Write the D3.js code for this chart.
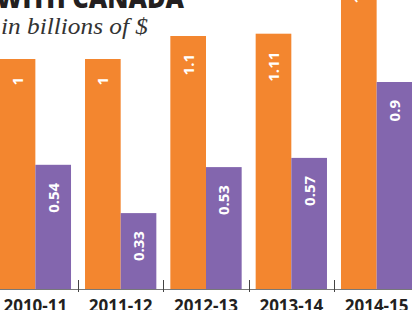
<!DOCTYPE html>
<html>
<head>
<meta charset="utf-8">
<script src="https://cdn.jsdelivr.net/npm/d3@7"></script>
<style>
  body { margin: 0; background: #fff; }
  svg { display: block; }
</style>
</head>
<body>
<svg id="chart" width="412" height="310"></svg>
<script>
const width = 412;
const height = 310;

// data
var years = ["2010-11", "2011-12", "2012-13", "2013-14", "2014-15"];
var exports_ = [1, 1, 1.1, 1.11, 1.45];
var imports_ = [0.54, 0.33, 0.53, 0.57, 0.9];
var exportLabels = ["1", "1", "1.1", "1.11", "1.45"];
var importLabels = ["0.54", "0.33", "0.53", "0.57", "0.9"];

var orange = "#f3862f";
var purple = "#8366ae";

var svg = d3.select("#chart");

var baseline = 289;

var x0 = d3.scaleBand()
    .domain(years)
    .range([-7.3, 419.3])
    .padding(0);

var x1 = d3.scaleBand()
    .domain(["exp", "imp"])
    .range([7, x0.bandwidth() - 7])
    .padding(0);

var y = d3.scaleLinear()
    .domain([0, 1])
    .range([baseline, 59]);

// title (cut at top)
svg.append("text")
    .attr("x", -4)
    .attr("y", 8)
    .attr("font-family", "'Open Sans', sans-serif")
    .attr("font-weight", 800)
    .attr("font-size", 28)
    .attr("fill", "#231f20")
    .attr("textLength", 188)
    .attr("lengthAdjust", "spacingAndGlyphs")
    .text("WITH CANADA");

svg.append("text")
    .attr("x", 1)
    .attr("y", 34)
    .attr("font-family", "'Liberation Serif', serif")
    .attr("font-style", "italic")
    .attr("font-size", 23)
    .attr("fill", "#333")
    .attr("textLength", 147)
    .attr("lengthAdjust", "spacingAndGlyphs")
    .text("in billions of $");

var groups = svg.selectAll("g.year")
    .data(years)
    .enter().append("g")
    .attr("class", "year")
    .attr("transform", function (d) { return "translate(" + x0(d) + ",0)"; });

var series = [
    {key: "exp", values: exports_, labels: exportLabels, color: orange},
    {key: "imp", values: imports_, labels: importLabels, color: purple}
];

series.forEach(function (s) {
    groups.append("rect")
        .attr("x", x1(s.key))
        .attr("width", x1.bandwidth())
        .attr("y", function (d, i) { return y(s.values[i]); })
        .attr("height", function (d, i) { return baseline - y(s.values[i]); })
        .attr("fill", s.color);

    groups.append("text")
        .attr("transform", function (d, i) {
            return "translate(" + (x1(s.key) + x1.bandwidth() / 2) + "," + (y(s.values[i]) + 18) + ") rotate(-90)";
        })
        .attr("dy", "0.36em")
        .attr("text-anchor", "end")
        .attr("font-family", "'Open Sans', sans-serif")
        .attr("font-weight", 700)
        .attr("font-size", 15)
        .attr("fill", "#fff")
        .text(function (d, i) { return s.labels[i]; });
});

// axis
svg.append("line")
    .attr("x1", 0).attr("x2", width)
    .attr("y1", baseline + 0.5).attr("y2", baseline + 0.5)
    .attr("stroke", "#555")
    .attr("stroke-width", 0.8);

svg.selectAll("line.tick")
    .data(years.slice(1))
    .enter().append("line")
    .attr("class", "tick")
    .attr("x1", function (d) { return Math.round(x0(d)) + 0.5; })
    .attr("x2", function (d) { return Math.round(x0(d)) + 0.5; })
    .attr("y1", baseline - 9)
    .attr("y2", baseline + 3)
    .attr("stroke", "#444")
    .attr("stroke-width", 1);

svg.selectAll("text.year")
    .data(years)
    .enter().append("text")
    .attr("class", "year")
    .attr("x", function (d) { return x0(d) + x0.bandwidth() / 2; })
    .attr("y", 312)
    .attr("text-anchor", "middle")
    .attr("font-family", "'Open Sans', sans-serif")
    .attr("font-weight", 700)
    .attr("font-size", 17)
    .attr("fill", "#231f20")
    .text(function (d) { return d; });
</script>
</body>
</html>
